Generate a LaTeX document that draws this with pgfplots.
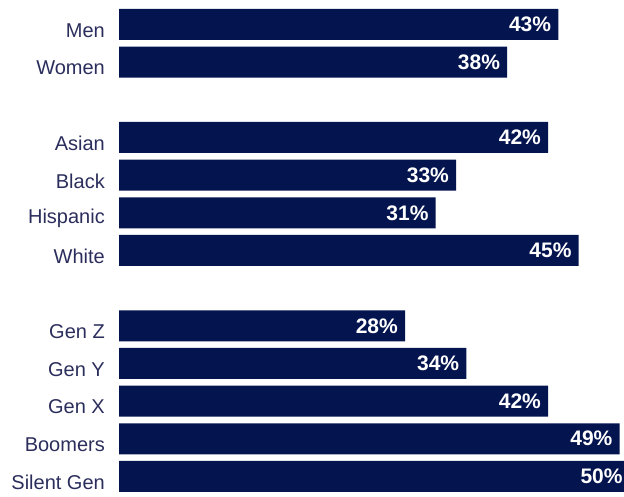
\documentclass[border=0pt]{standalone}
\usepackage{fontspec}
\setmainfont{Liberation Sans}
\usepackage{pgfplots}
\pgfplotsset{compat=1.18}
\definecolor{barblue}{HTML}{04144F}
\definecolor{labelnavy}{HTML}{2B2E5C}
\begin{document}
\begin{tikzpicture}
\begin{axis}[
  at={(119pt,0pt)}, anchor=south west,
  scale only axis, width=521pt, height=496pt,
  xbar, bar width=31pt, bar shift=0pt,
  xmin=0, xmax=51,
  ymin=-0.65, ymax=12.52, y dir=reverse,
  ytick={0,1,3,4,5,6,8,9,10,11,12},
  yticklabels={Men,Women,Asian,Black,Hispanic,White,Gen Z,Gen Y,Gen X,Boomers,Silent Gen},
  xtick=\empty,
  axis line style={draw=none},
  major tick length=0pt,
  yticklabel style={font=\fontsize{20}{24}\selectfont, text=labelnavy, inner sep=0pt, xshift=-14pt, yshift=-6pt},
  point meta=x,
  /pgf/number format/assume math mode=true,
  nodes near coords={\pgfmathprintnumber{\pgfplotspointmeta}\%},
  nodes near coords style={anchor=east, xshift=-7pt, inner sep=0pt, text=white, font=\fontsize{21}{24}\selectfont\bfseries},
]
\addplot[fill=barblue, draw=none] coordinates {
  (43,0) (38,1) (42,3) (33,4) (31,5) (45,6) (28,8) (34,9) (42,10) (49,11) (50,12)
};
\end{axis}
\pgfresetboundingbox
\path[use as bounding box] (0,0) rectangle (624pt,496pt);
\end{tikzpicture}
\end{document}
